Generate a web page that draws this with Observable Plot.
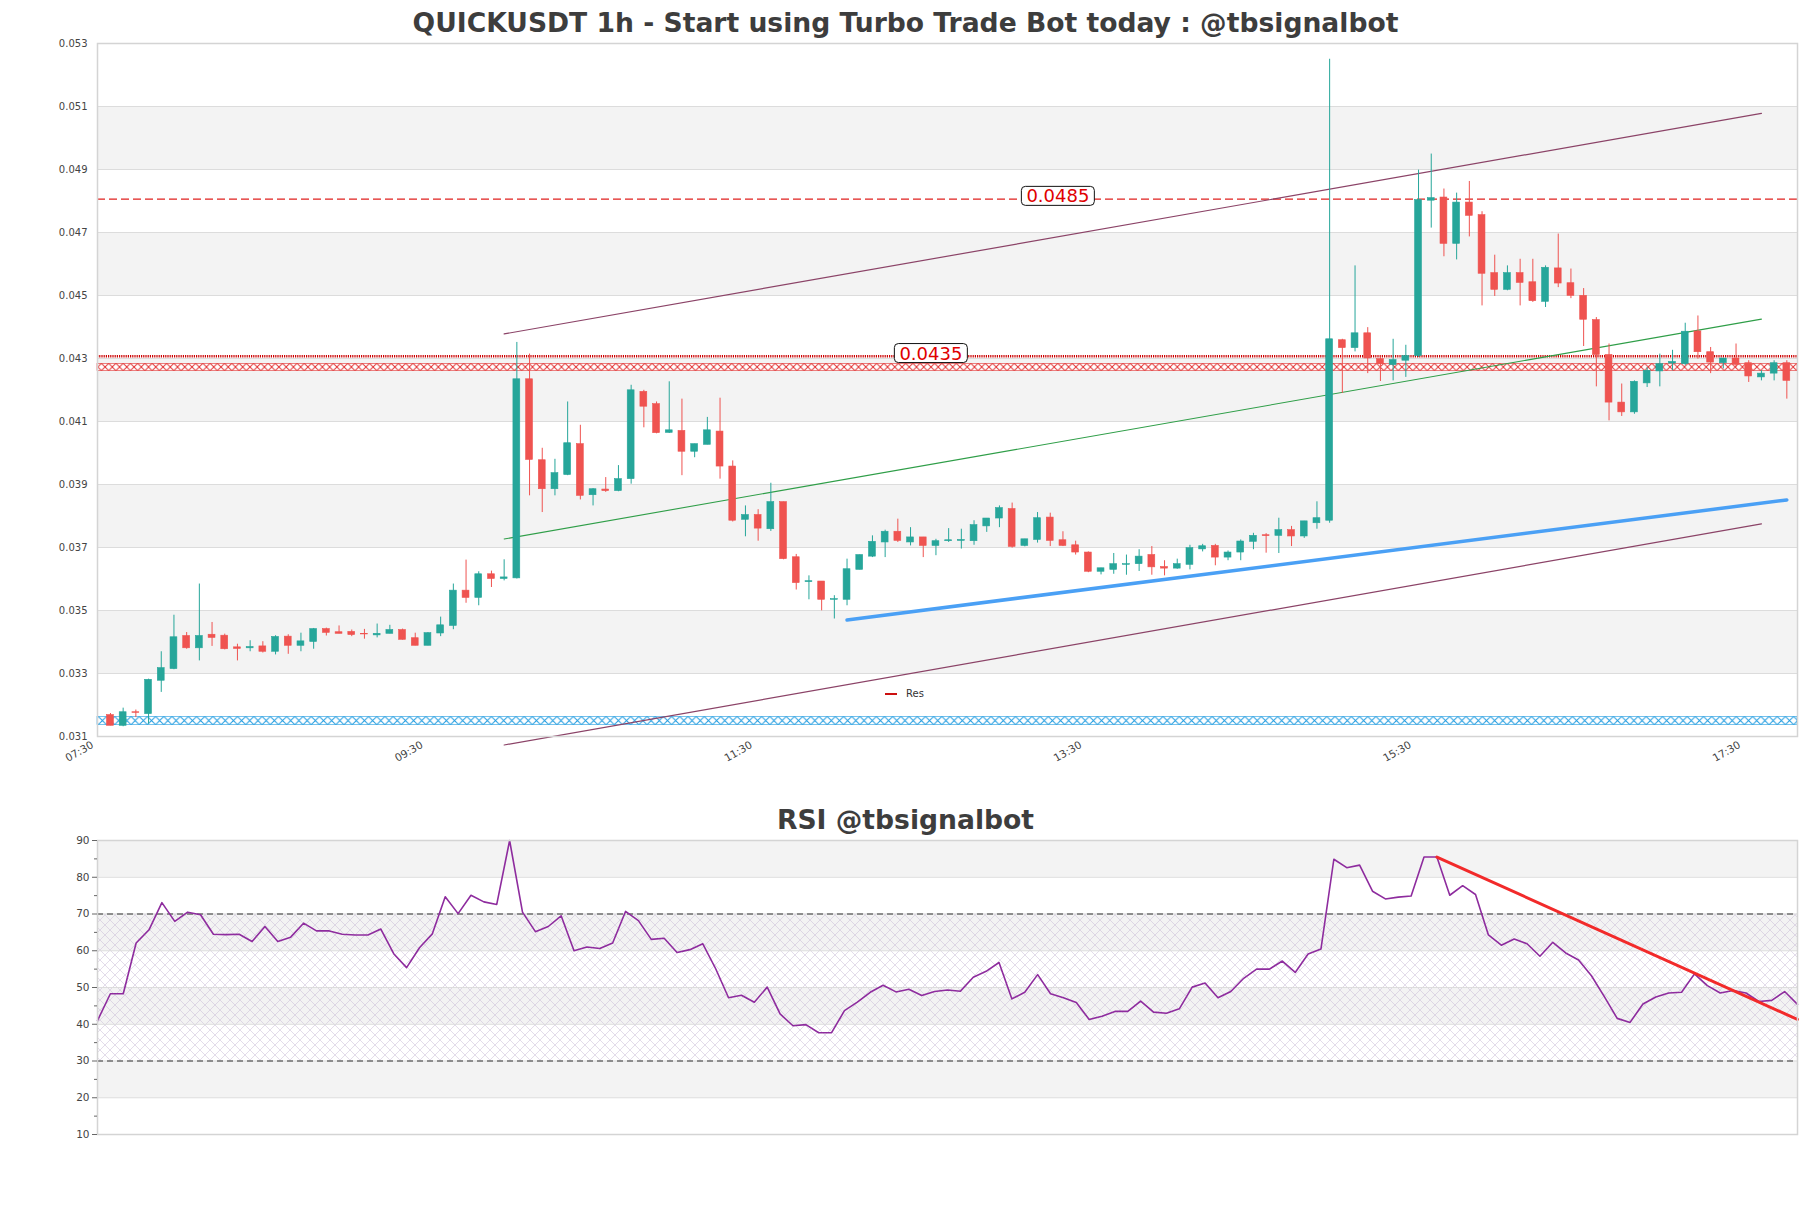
<!DOCTYPE html>
<html><head><meta charset="utf-8">
<script src="https://cdn.jsdelivr.net/npm/d3@7"></script>
<script src="https://cdn.jsdelivr.net/npm/@observablehq/plot@0.6"></script>
<style>
html,body{margin:0;padding:0;background:#fff;}
#wrap{position:relative;width:1811px;height:1208px;overflow:hidden;font-family:"DejaVu Sans",sans-serif;}
#wrap svg{position:absolute;left:0;}
.title{position:absolute;left:0;width:1811px;text-align:center;font-weight:bold;font-size:26.6px;line-height:26px;color:#3d3d3d;white-space:nowrap;z-index:2;}
#legend{position:absolute;left:885px;top:688px;font-size:10px;line-height:12px;color:#333;display:flex;align-items:center;z-index:2;}
#legend .sw{display:inline-block;width:12px;height:2px;background:#cc1010;margin-right:9px;}
</style></head>
<body><div id="wrap">
<div class="title" style="top:10px">QUICKUSDT 1h - Start using Turbo Trade Bot today : @tbsignalbot</div>
<div class="title" style="top:807px">RSI @tbsignalbot</div>
<div id="legend"><span class="sw"></span><span>Res</span></div>
</div>
<script>
// ---------- data ----------
const open = [0.03168,0.03134,0.03177,0.03171,0.03277,0.03314,0.03419,0.0338,0.03423,0.0342,
0.03383,0.0338,0.03386,0.03369,0.03417,0.03388,0.034,0.03441,0.03431,0.03432,
0.03426,0.03421,0.03426,0.03438,0.03412,0.03388,0.03427,0.03451,0.03563,0.0354,
0.03615,0.036,0.03602,0.04234,0.03977,0.03885,0.0393,0.04028,0.03866,0.03884,
0.03879,0.03917,0.04194,0.04155,0.04064,0.0407,0.04004,0.04026,0.04068,0.03957,
0.03788,0.03803,0.03758,0.03844,0.03669,0.0359,0.03592,0.03534,0.03534,0.03629,
0.03671,0.03716,0.0375,0.03716,0.03732,0.03705,0.0372,0.03721,0.0372,0.03767,
0.03792,0.03822,0.03705,0.03724,0.03795,0.03723,0.03707,0.03684,0.03623,0.03629,
0.03645,0.03647,0.03676,0.03638,0.03633,0.03645,0.03694,0.03705,0.03668,0.03684,
0.03718,0.03739,0.03737,0.03755,0.03735,0.03777,0.03785,0.04358,0.04333,0.0438,
0.04298,0.04279,0.04293,0.04308,0.04801,0.04811,0.04664,0.04795,0.04755,0.04571,
0.04518,0.04571,0.04542,0.0448,0.04586,0.04539,0.04499,0.04422,0.04311,0.0416,
0.04129,0.04221,0.04259,0.04284,0.04282,0.04386,0.0432,0.04285,0.043,0.04285,
0.0424,0.04252,0.04285];
const high = [0.03173,0.0319,0.03184,0.03282,0.03369,0.03485,0.0343,0.03584,0.03462,0.03425,
0.03393,0.03404,0.03401,0.0342,0.03423,0.03428,0.03443,0.03444,0.03451,0.03438,
0.0344,0.03457,0.03453,0.03441,0.03428,0.0343,0.03479,0.03584,0.0366,0.03623,
0.03625,0.03661,0.04351,0.04314,0.04015,0.0398,0.04162,0.04088,0.03887,0.03922,
0.0396,0.04215,0.04199,0.04162,0.04226,0.04171,0.04028,0.04113,0.04174,0.03975,
0.03832,0.0382,0.03904,0.03844,0.03678,0.0361,0.03592,0.03547,0.03663,0.03676,
0.03737,0.03755,0.0379,0.03763,0.03732,0.03726,0.0376,0.03758,0.03785,0.03792,
0.03832,0.03841,0.03726,0.03811,0.03809,0.0375,0.0372,0.03686,0.03634,0.03681,
0.03676,0.03693,0.03703,0.03658,0.03663,0.03707,0.0371,0.0371,0.03689,0.03724,
0.03745,0.03744,0.03793,0.03767,0.03783,0.03845,0.0525,0.04361,0.04594,0.04398,
0.04303,0.04361,0.04342,0.04898,0.04949,0.04838,0.04825,0.04862,0.04766,0.04628,
0.04594,0.04615,0.04615,0.04594,0.04695,0.04584,0.04522,0.0443,0.04346,0.04219,
0.04229,0.04271,0.04314,0.04326,0.04412,0.04435,0.04335,0.043,0.04346,0.04293,
0.04261,0.04293,0.04293];
const low = [0.03134,0.03131,0.0316,0.03139,0.0324,0.03312,0.03377,0.0334,0.03386,0.03375,
0.0334,0.03369,0.03365,0.03359,0.03361,0.03369,0.03377,0.03419,0.03426,0.03417,
0.03409,0.03413,0.03426,0.03406,0.03388,0.03388,0.03417,0.03439,0.03523,0.03515,
0.03573,0.03594,0.036,0.03864,0.03811,0.03864,0.03928,0.03851,0.03832,0.03875,
0.03877,0.03901,0.0408,0.04061,0.04062,0.03928,0.03985,0.04026,0.03917,0.03781,
0.03734,0.0372,0.03751,0.03661,0.03565,0.03534,0.03499,0.03473,0.03515,0.03629,
0.03668,0.03668,0.03716,0.03705,0.03668,0.03674,0.03716,0.03695,0.03707,0.03748,
0.03763,0.03698,0.03702,0.03714,0.03703,0.03703,0.03676,0.0362,0.03613,0.03615,
0.03612,0.03624,0.03612,0.0361,0.03631,0.03629,0.03686,0.03642,0.03658,0.03658,
0.03693,0.03682,0.03681,0.03703,0.03729,0.03758,0.03777,0.04189,0.04321,0.04252,
0.04227,0.04229,0.0424,0.04303,0.04714,0.04623,0.04613,0.04686,0.04467,0.04497,
0.04515,0.04467,0.04478,0.04462,0.04525,0.0449,0.04338,0.0421,0.04102,0.04116,
0.04123,0.04208,0.0421,0.04261,0.04277,0.04298,0.04252,0.04267,0.04271,0.04224,
0.04229,0.04229,0.04171];
const close = [0.03134,0.03177,0.03175,0.0328,0.03317,0.03415,0.0338,0.03419,0.03413,0.03377,
0.03378,0.03384,0.03369,0.03416,0.03388,0.03402,0.03441,0.03429,0.03426,0.03422,
0.03424,0.03426,0.03438,0.03407,0.03388,0.03428,0.03453,0.03563,0.0354,0.03615,
0.036,0.03605,0.04234,0.03978,0.03885,0.03936,0.04031,0.03864,0.03885,0.03879,
0.03917,0.04199,0.04147,0.04063,0.04072,0.04004,0.04028,0.04072,0.03957,0.03785,
0.03803,0.0376,0.03844,0.03663,0.03587,0.03593,0.03534,0.03536,0.03631,0.03676,
0.03718,0.0375,0.03721,0.03732,0.03705,0.0372,0.03723,0.03724,0.03771,0.03792,
0.03825,0.03702,0.03726,0.03793,0.03721,0.03705,0.03684,0.03623,0.03634,0.03647,
0.03647,0.03671,0.03637,0.03633,0.03647,0.03698,0.03704,0.03668,0.03684,0.03719,
0.03737,0.03736,0.03755,0.03735,0.03783,0.03793,0.04361,0.04333,0.0438,0.043,
0.04282,0.04295,0.04308,0.04803,0.04809,0.04664,0.04795,0.04753,0.04569,0.04518,
0.04571,0.0454,0.04482,0.04588,0.04538,0.04499,0.04423,0.04311,0.0416,0.04129,
0.04226,0.04261,0.04282,0.04289,0.04385,0.0432,0.04287,0.043,0.0428,0.04243,
0.04252,0.04285,0.04229];
const rsi = [41.0,48.3,48.3,62.1,65.7,73.1,68.0,70.5,69.8,64.5,
64.4,64.5,62.5,66.6,62.5,63.7,67.5,65.4,65.4,64.5,
64.3,64.3,65.9,59.2,55.4,60.8,64.6,74.7,70.1,75.1,
73.3,72.6,90.0,70.5,65.2,66.6,69.5,60.0,61.0,60.6,
62.1,70.7,68.2,63.1,63.4,59.5,60.3,61.9,55.1,47.2,
47.9,46.0,50.1,42.8,39.6,39.9,37.7,37.7,43.7,46.0,
48.7,50.6,48.8,49.5,47.8,48.9,49.3,49.0,52.8,54.4,
56.8,46.9,48.7,53.5,48.3,47.2,45.9,41.3,42.2,43.5,
43.5,46.3,43.3,43.0,44.2,50.1,51.2,47.2,48.9,52.5,
55.0,55.0,57.2,54.1,59.1,60.5,84.9,82.6,83.3,76.2,
74.1,74.6,74.9,85.5,85.5,75.1,77.7,75.3,64.3,61.5,
63.2,61.9,58.5,62.3,59.4,57.5,53.2,47.5,41.6,40.5,
45.5,47.4,48.5,48.7,53.7,50.5,48.5,49.2,48.5,46.2,
46.5,48.9,45.4];

const xTickLabels = ["07:30","09:30","11:30","13:30","15:30","17:30"];
const xTickIdx = [-1.02, 24.92, 50.86, 76.8, 102.74, 128.68];
const xDomain = [-1.02, 132.84];
const yTicks = [0.031,0.033,0.035,0.037,0.039,0.041,0.043,0.045,0.047,0.049,0.051,0.053];
const priceBands = [[0.033,0.035],[0.037,0.039],[0.041,0.043],[0.045,0.047],[0.049,0.051]];
const dashedLevel = [0.04806];
const dottedLevel = [0.04307];
const levelLabels = [{i: 74.6, p: 0.04806, label: "0.0485"}, {i: 64.6, p: 0.04307, label: "0.0435"}];
const redBand = [0.0426, 0.04283];
const blueBand = [0.03136, 0.03162];
const channelUpper = [{i: 31, p: 0.04378}, {i: 130, p: 0.05078}];
const channelLower = [{i: 31, p: 0.03073}, {i: 130, p: 0.03775}];
const channelMid = [{i: 31, p: 0.03727}, {i: 130, p: 0.04425}];
const supportLine = [{i: 58, p: 0.0347}, {i: 132, p: 0.03851}];

const rsiTicks = [10,20,30,40,50,60,70,80,90];
const rsiMinor = [15,25,35,45,55,65,75,85];
const rsiBands = [[20,30],[40,50],[60,70],[80,90]];
const rsiLevels = [30, 70];
const rsiZone = [[30, 70]];
const rsiTrend = [{i: 104, v: 85.5}, {i: 132, v: 41.3}];

// ---------- build ----------
const UP = "#26a69a", DOWN = "#ef5350";
const candles = open.map((o, i) => ({i, o, h: high[i], l: low[i], c: close[i]}));
const ups = candles.filter(d => d.c >= d.o), downs = candles.filter(d => d.c < d.o);
const xTicks = xTickIdx.map((i, k) => ({i, label: xTickLabels[k]}));
const font = {fontFamily: "DejaVu Sans", background: "transparent"};

function candleMarks(data, col) {
  return [
    Plot.ruleX(data, {x: "i", y1: "l", y2: "h", stroke: col, strokeWidth: 1}),
    Plot.rect(data, {x1: d => d.i - 0.27, x2: d => d.i + 0.27, y1: "o", y2: "c", fill: col, stroke: col, strokeWidth: 0.6})
  ];
}

const main = Plot.plot({
  width: 1811, height: 790,
  marginTop: 43, marginBottom: 54, marginLeft: 97, marginRight: 14,
  style: font,
  x: {domain: xDomain, axis: null, label: null},
  y: {domain: [0.031, 0.053], axis: null, label: null},
  marks: [
    Plot.rect(priceBands, {x1: xDomain[0], x2: xDomain[1], y1: d => d[0], y2: d => d[1], fill: "#f3f3f3"}),
    Plot.ruleY(yTicks, {stroke: "#dcdcdc", strokeWidth: 1}),
    Plot.rect([redBand], {x1: xDomain[0], x2: xDomain[1], y1: d => d[0], y2: d => d[1], fill: "url(#hatchRed)", stroke: "#e23030", strokeWidth: 0.6}),
    Plot.rect([blueBand], {x1: xDomain[0], x2: xDomain[1], y1: d => d[0], y2: d => d[1], fill: "url(#hatchBlue)", stroke: "#1e9be0", strokeWidth: 0.6}),
    Plot.ruleY(dashedLevel, {stroke: "#e0201e", strokeWidth: 1.4, strokeDasharray: "8,4"}),
    Plot.ruleY(dottedLevel, {stroke: "#cc0000", strokeWidth: 2.6, strokeDasharray: "1.2,1"}),
    Plot.line(channelUpper, {x: "i", y: "p", stroke: "#8b4367", strokeWidth: 1.2}),
    Plot.line(channelLower, {x: "i", y: "p", stroke: "#8b4367", strokeWidth: 1.2}),
    Plot.line(channelMid, {x: "i", y: "p", stroke: "#2f9e48", strokeWidth: 1.1}),
    Plot.line(supportLine, {x: "i", y: "p", stroke: "#4aa0f5", strokeWidth: 3.5}),
    ...candleMarks(ups, UP),
    ...candleMarks(downs, DOWN),
    Plot.text(levelLabels, {x: "i", y: "p", text: "label", fill: "#e00000", fontSize: 18, dy: -2.5}),
    Plot.frame({stroke: "#d4d4d4", strokeWidth: 1.5}),
    Plot.axisY(yTicks, {tickSize: 0, tickPadding: 10, tickFormat: d3.format(".3f"), fontSize: 10, fill: "#444", label: null}),
    Plot.text(xTicks, {x: "i", text: "label", frameAnchor: "bottom", rotate: -30, textAnchor: "end", lineAnchor: "top", dx: -7, dy: 4, fontSize: 10.5, fill: "#444"})
  ]
});
main.style.top = "0px";

const rsiPlot = Plot.plot({
  width: 1811, height: 418,
  marginTop: 50, marginBottom: 74, marginLeft: 97, marginRight: 14,
  style: font,
  x: {domain: [0, rsi.length - 1], axis: null, label: null},
  y: {domain: [10, 90], axis: null, label: null},
  marks: [
    Plot.rect(rsiBands, {x1: 0, x2: rsi.length - 1, y1: d => d[0], y2: d => d[1], fill: "#f3f3f3"}),
    Plot.rect(rsiZone, {x1: 0, x2: rsi.length - 1, y1: d => d[0], y2: d => d[1], fill: "url(#hatchRsi)"}),
    Plot.ruleY(rsiTicks, {stroke: "#dcdcdc", strokeWidth: 1}),
    Plot.ruleY(rsiLevels, {stroke: "#333", strokeWidth: 1.2, strokeDasharray: "6,4"}),
    Plot.lineY(rsi, {stroke: "#8e2c9e", strokeWidth: 1.6}),
    Plot.line(rsiTrend, {x: "i", y: "v", stroke: "#f22a2a", strokeWidth: 3}),
    Plot.frame({stroke: "#d4d4d4", strokeWidth: 1.5}),
    Plot.axisY(rsiTicks, {tickSize: 5, tickPadding: 3, fontSize: 10.5, fill: "#444", stroke: "#666", label: null}),
    Plot.axisY(rsiMinor, {tickSize: 3, tickFormat: () => "", stroke: "#666", label: null})
  ]
});
rsiPlot.style.top = "790px";

const wrap = document.getElementById("wrap");
wrap.appendChild(main);
wrap.appendChild(rsiPlot);

// patterns
const ys = main.scale("y");
function addXPattern(svg, id, color, yTop, h) {
  let defs = d3.select(svg).select("defs");
  if (defs.empty()) defs = d3.select(svg).insert("defs", ":first-child");
  const p = defs.append("pattern").attr("id", id).attr("patternUnits", "userSpaceOnUse")
    .attr("x", 0).attr("y", yTop).attr("width", h).attr("height", h);
  p.append("rect").attr("width", h).attr("height", h).attr("fill", "#fff");
  p.append("path").attr("d", `M0,0L${h},${h}M0,${h}L${h},0`).attr("stroke", color).attr("stroke-width", 1).attr("fill", "none");
}
const rTop = ys.apply(redBand[1]), rH = ys.apply(redBand[0]) - rTop;
const bTop = ys.apply(blueBand[1]), bH = ys.apply(blueBand[0]) - bTop;
addXPattern(main, "hatchRed", "#e23030", rTop, rH);
addXPattern(main, "hatchBlue", "#1e9be0", bTop, bH);
{
  const defs = d3.select(rsiPlot).insert("defs", ":first-child");
  const s = 10;
  const p = defs.append("pattern").attr("id", "hatchRsi").attr("patternUnits", "userSpaceOnUse").attr("width", s).attr("height", s);
  p.append("path").attr("d", `M0,0L${s},${s}M0,${s}L${s},0`).attr("stroke", "#c4b6d2").attr("stroke-width", 0.6).attr("fill", "none").attr("opacity", 0.8);
}

// boxes behind level labels
const labelSet = new Set(levelLabels.map(d => d.label));
d3.select(main).selectAll("text").filter(function () { return labelSet.has(this.textContent); }).each(function () {
  const b = this.getBBox();
  const cy = b.y + b.height / 2;
  const r = document.createElementNS("http://www.w3.org/2000/svg", "rect");
  r.setAttribute("x", b.x - 5); r.setAttribute("width", b.width + 10);
  r.setAttribute("y", cy - 9.5); r.setAttribute("height", 19);
  r.setAttribute("rx", 4); r.setAttribute("fill", "#fff"); r.setAttribute("stroke", "#111"); r.setAttribute("stroke-width", 1);
  const t = this.getAttribute("transform"); if (t) r.setAttribute("transform", t);
  this.parentNode.insertBefore(r, this);
});
</script></body></html>
